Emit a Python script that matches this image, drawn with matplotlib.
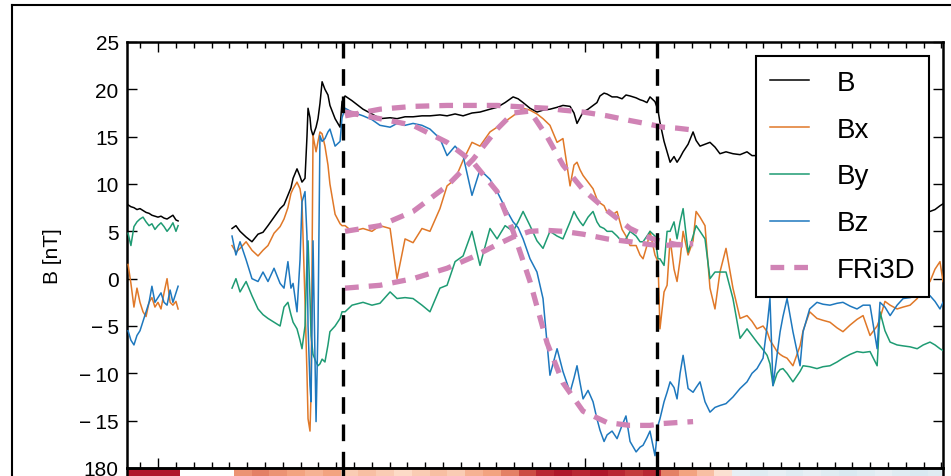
import numpy as np
import matplotlib.pyplot as plt
from matplotlib.ticker import MultipleLocator, FuncFormatter, FixedLocator
from matplotlib.lines import Line2D

plt.rcParams['font.family'] = ['Liberation Sans', 'DejaVu Sans']

# time in hours from the start of the panel
t1 = [0.06, 0.22, 0.39, 0.56, 0.73, 0.90, 1.07, 1.24, 1.40, 1.57,
      1.74, 1.91, 2.08, 2.25, 2.42, 2.58, 2.75, 2.87]
B1 = [7.8, 7.6, 7.5, 7.3, 7.4, 7.2, 7.0, 6.9, 6.7, 6.6,
      6.5, 6.6, 6.4, 6.3, 6.5, 6.7, 6.2, 6.1]
Bx1 = [1.5, -0.5, -3.0, -1.0, -2.5, -3.5, -4.0, -2.5, -2.0, -3.0,
       -2.5, -3.2, -1.5, 0.0, -2.5, -2.8, -2.4, -3.2]
By1 = [4.8, 3.5, 5.5, 6.0, 6.3, 6.5, 6.0, 5.6, 5.8, 5.2,
       5.6, 5.9, 5.5, 5.0, 5.4, 5.9, 5.0, 5.6]
Bz1 = [-5.5, -6.5, -7.0, -6.0, -5.5, -4.5, -3.5, -2.5, -0.8, -2.5,
       -2.0, -1.5, -2.5, -2.8, -1.2, -2.5, -1.5, -0.8]

t2 = [5.90, 6.12, 6.35, 6.69, 7.02, 7.36, 7.64, 7.92, 8.26, 8.60,
      8.82, 9.04, 9.21, 9.33, 9.55, 9.72, 9.83, 10.00, 10.11, 10.17,
      10.28, 10.34, 10.45, 10.62, 10.73, 10.84, 10.96, 11.12, 11.29, 11.40,
      11.69, 11.97, 12.08,
      12.25, 12.64, 13.26, 13.76, 14.21, 14.78, 15.17, 15.62, 16.07, 16.57,
      17.02, 17.58, 17.98, 18.43, 18.88, 19.38, 19.83, 20.39, 20.79, 21.24,
      21.69, 21.97, 22.25, 22.64, 23.03, 23.37, 23.76, 24.16, 24.49, 24.89,
      25.11, 25.28, 25.45, 25.62, 25.90, 26.18, 26.40, 26.57, 26.80, 26.97,
      27.25, 27.53, 27.81, 28.03, 28.26, 28.60, 28.82, 28.99, 29.21, 29.38,
      29.66, 29.83, 29.94, 30.17, 30.34, 30.51, 30.73, 30.90, 31.07, 31.24,
      31.52, 31.80, 31.97, 32.19, 32.47, 32.75, 33.03, 33.31, 33.65, 34.04,
      34.44, 34.83, 35.11, 35.39, 35.73, 35.96, 36.12, 36.29, 36.52, 36.69,
      36.85, 37.08, 37.41, 37.81, 37.98, 38.35, 38.76, 39.10, 39.49, 39.89,
      40.22, 40.62, 41.01, 41.35, 41.74, 42.14, 42.30, 42.58, 42.87, 43.26,
      43.60, 43.99, 44.39, 44.73, 45.11, 45.39, 45.67, 45.84]

B2 = [5.3, 5.6, 5.0, 4.4, 3.9, 4.7, 4.9, 5.6, 6.5, 7.4,
      7.8, 8.8, 9.6, 10.6, 11.6, 10.8, 10.2, 10.6, 15.0, 18.0,
      17.0, 15.8, 15.1, 16.0, 16.9, 18.5, 20.8, 20.0, 19.4, 18.3,
      16.9, 16.0, 18.7,
      19.3, 18.8, 17.9, 17.4, 16.9, 17.0, 16.9, 17.1, 17.1, 17.2,
      17.2, 17.3, 17.2, 17.4, 17.2, 17.5, 17.6, 17.9, 18.1, 18.6,
      19.2, 19.0, 18.6, 18.0, 17.6, 17.8, 17.9, 18.1, 18.3, 18.2,
      17.5, 16.4, 17.0, 17.6, 17.9, 18.3, 18.6, 19.3, 19.6, 19.5,
      19.2, 19.2, 19.0, 19.4, 19.3, 19.1, 18.9, 18.8, 18.6, 19.2,
      18.7, 17.8, 16.5, 14.5, 13.4, 12.3, 12.9, 12.3, 12.8, 13.4,
      14.2, 15.5, 14.6, 14.0, 14.2, 14.4, 13.9, 13.2, 13.4, 13.2,
      13.1, 13.4, 13.0, 13.0, 12.9, 12.8, 12.7, 12.6, 12.7, 12.5,
      12.4, 12.3, 12.2, 12.0, 11.9, 11.8, 11.6, 11.4, 11.0, 10.8,
      10.5, 10.2, 10.0, 9.7, 9.4, 9.1, 9.0, 8.8, 8.6, 8.3,
      8.0, 7.8, 7.5, 7.3, 7.1, 7.3, 7.7, 7.9]

Bx2 = [3.5, 2.8, 3.2, 3.9, 3.0, 2.4, 3.0, 3.5, 4.8, 5.5,
       6.3, 7.5, 9.0, 9.5, 10.2, 9.5, 8.1, -2.4, -10.0, -14.8,
       -16.1, -12.0, 15.1, 13.4, 14.5, 15.5, 15.3, 14.0, 12.0, 10.0,
       6.8, 5.8, 5.6,
       5.6, 5.0, 5.3, 5.0, 5.6, 5.3, 0.0, 4.2, 3.8, 5.3,
       5.0, 7.4, 9.8, 10.5, 12.5, 14.4, 14.0, 15.5, 16.0, 16.6,
       17.2, 17.6, 18.0, 17.8, 17.4, 16.9, 16.2, 14.4, 14.8, 9.8,
       12.0, 12.3, 11.5, 10.9, 10.2, 9.5, 8.4, 8.0, 7.7, 7.0,
       6.7, 7.1, 5.2, 4.5, 3.5, 3.5, 2.5, 2.1, 3.5, 5.0,
       2.5, 1.8, -5.3, -1.4, -0.7, 4.2, 1.0, -0.3, 2.0, 5.0,
       2.5, 4.0, 7.1, 6.5, 5.6, -1.0, -3.2, 0.7, 3.2, -1.0,
       -4.2, -3.9, -4.5, -5.3, -5.0, -5.6, -6.5, -7.0, -7.7, -8.0,
       -8.2, -8.4, -9.2, -7.1, -5.5, -3.5, -4.2, -4.4, -4.6, -5.2,
       -5.6, -4.9, -4.3, -3.9, -6.0, -5.0, -4.2, -2.4, -2.8, -3.2,
       -3.0, -2.8, -2.1, -1.0, -0.3, 1.0, 1.8, -0.3]

By2 = [-1.0, 0.0, -1.4, -0.3, -1.8, -3.2, -3.8, -4.2, -4.6, -5.0,
       -3.0, -2.5, -3.8, -4.6, -5.3, -6.5, -7.4, -5.0, 2.0, 4.0,
       -2.0, -6.0, -8.0, -8.8, -9.2, -9.0, -8.5, -8.8, -7.0, -5.6,
       -5.0, -4.2, -3.5,
       -3.5, -2.8, -2.5, -2.8, -2.6, -1.4, -2.1, -2.0, -2.1, -2.8,
       -3.5, -1.0, -0.7, 1.8, 2.4, 5.0, 1.4, 5.3, 4.2, 5.6,
       5.0, 6.0, 7.1, 5.6, 4.0, 3.2, 5.0, 4.5, 4.2, 6.0,
       7.1, 6.5, 6.0, 5.6, 6.5, 7.1, 6.0, 5.5, 5.3, 5.0,
       5.0, 4.5, 3.9, 4.2, 5.0, 4.5, 3.9, 3.9, 4.5, 5.0,
       4.5, 2.1, 2.1, 1.4, 5.0, 5.0, 6.0, 4.2, 6.0, 7.4,
       2.8, 4.5, 5.6, 5.0, 4.2, 0.0, 0.7, 0.7, 0.7, -2.1,
       -6.3, -5.3, -6.0, -6.7, -7.5, -8.1, -9.0, -11.3, -10.0, -9.6,
       -9.5, -10.0, -10.9, -9.8, -9.2, -9.3, -9.5, -9.3, -9.2, -8.8,
       -8.4, -8.0, -7.7, -7.8, -7.7, -9.2, -3.5, -5.5, -6.7, -7.0,
       -7.1, -7.2, -7.4, -7.0, -6.7, -7.0, -7.4, -7.6]

Bz2 = [4.5, 2.5, 3.9, 2.0, 0.0, -0.3, 0.7, -0.3, 1.1, -0.5,
       -1.0, 1.8, -1.0, -0.5, -3.5, 2.0, 8.1, 9.2, 4.5, -5.0,
       -11.3, -13.0, 4.0, -15.1, -5.0, 15.1, 14.5, 14.8, 15.5, 15.8,
       14.0, 14.5, 17.0,
       18.0, 17.6, 17.2, 16.8, 16.2, 16.0, 16.4, 16.2, 16.4, 16.2,
       15.8, 14.8, 13.0, 14.0, 13.0, 8.8, 11.5, 10.5, 9.2, 7.5,
       6.0, 5.4, 4.2, 2.1, 0.7, -2.1, -10.2, -7.4, -9.8, -12.0,
       -10.5, -9.2, -11.0, -12.7, -11.8, -13.0, -14.8, -16.0, -17.2, -16.5,
       -16.1, -16.9, -15.5, -14.5, -17.2, -18.3, -17.8, -17.6, -16.8, -16.1,
       -18.7, -15.5, -14.8, -13.0, -12.0, -10.9, -11.5, -12.7, -10.0, -8.1,
       -11.6, -12.0, -11.5, -10.9, -13.0, -14.1, -13.6, -13.4, -13.2, -12.5,
       -11.6, -10.9, -10.0, -9.5, -8.4, -5.0, -2.1, -11.3, -8.0, -5.6,
       -4.0, -2.1, -5.6, -9.2, -5.6, -3.2, -2.5, -2.7, -2.8, -2.6,
       -2.5, -2.9, -3.2, -2.8, -2.8, -7.4, -2.5, -3.0, -3.9, -2.8,
       -2.1, -2.0, -1.8, -1.6, -1.8, -2.4, -3.2, -2.5]

# FRi3D flux-rope fit
t_fit = [12.25, 14.21, 16.07, 17.98, 19.44, 20.79, 21.69, 22.64, 23.60,
         24.49, 25.62, 26.97, 28.26, 29.38, 30.11, 30.90, 31.80]
B_fit = [17.2, 17.9, 18.2, 18.3, 18.3, 18.3, 18.2, 18.1, 18.0,
         17.8, 17.6, 17.2, 16.7, 16.3, 16.0, 15.9, 15.7]
Bx_fit = [5.0, 5.6, 7.1, 9.8, 12.6, 15.8, 17.5, 17.7, 15.0,
          12.0, 9.4, 7.2, 5.3, 4.3, 3.9, 3.6, 3.5]
By_fit = [-1.0, -0.7, 0.0, 1.1, 2.3, 3.6, 4.4, 5.0, 5.1,
          5.0, 4.7, 4.2, 3.9, 3.6, 3.5, 3.6, 3.7]
Bz_fit = [17.6, 16.9, 16.2, 14.4, 12.3, 9.2, 5.0, -0.3, -6.8,
          -11.0, -14.0, -15.2, -15.5, -15.5, -15.3, -15.2, -15.1]

boundaries = [12.13, 29.78]

# hourly values of the panel below (only its top edge is in view)
strip = [0.8, 0.8, 0.8, np.nan, np.nan, np.nan, 0.45, 0.5, 0.45, 0.4,
         0.35, 0.4, 0.25, 0.3, 0.25, 0.2, 0.25, 0.3, 0.25, 0.35,
         0.4, 0.5, 0.65, 0.75, 0.8, 0.75, 0.8, 0.75, 0.7, 0.75,
         0.5, 0.4, 0.3, 0.15, -0.08, -0.12, -0.08, -0.12, -0.08, -0.12,
         -0.15, -0.12, -0.08, -0.12, -0.15, -0.12]

t_end = 45.84

def join(a, b):
    return np.concatenate([a, [np.nan], b])

t_all = join(t1, t2)
series = [('B', join(B1, B2), 'k'),
          ('Bx', join(Bx1, Bx2), '#E07828'),
          ('By', join(By1, By2), '#1E9B73'),
          ('Bz', join(Bz1, Bz2), '#1E78BE')]

fig = plt.figure(figsize=(9.51, 4.77), dpi=100)
W, H = 951, 477
ax = fig.add_axes([127 / W, (H - 469) / H, 816 / W, 426 / H], zorder=2)
ax.patch.set_alpha(0)
strip_ax = fig.add_axes([127 / W, (H - 469) / H - 0.15, 816 / W, 0.15], zorder=1)

for name, vals, col in series:
    ax.plot(t_all, vals, color=col, lw=1.1, label=name, zorder=3)

pink = '#D083B5'
for i, vals in enumerate([B_fit, Bx_fit, By_fit, Bz_fit]):
    ax.plot(t_fit, vals, color=pink, lw=3.8, dashes=(2.6, 1.9),
            label='FRi3D' if i == 0 else None, zorder=4)

for b in boundaries:
    ax.axvline(b, color='k', lw=2.4, dashes=(5, 3.2), zorder=5)
    strip_ax.axvline(b, color='k', lw=2.4, dashes=(5, 3.2), zorder=5)

ax.set_xlim(0, t_end)
ax.set_ylim(-20, 25)
ax.yaxis.set_major_locator(FixedLocator([-15, -10, -5, 0, 5, 10, 15, 20, 25]))

def fmt(v, pos):
    if v < 0:
        return '\u2212\u2009%d' % -v
    return '%d' % v

ax.yaxis.set_major_formatter(FuncFormatter(fmt))
ax.xaxis.set_major_locator(MultipleLocator(24, offset=1.75))
ax.xaxis.set_minor_locator(MultipleLocator(1, offset=0.75))
ax.tick_params(axis='both', which='both', direction='in', top=True, right=True,
               labelbottom=False, width=1.0)
ax.tick_params(axis='x', which='major', length=7)
ax.tick_params(axis='x', which='minor', length=4)
ax.tick_params(axis='y', which='major', length=7, labelsize=15, pad=6)
ax.set_ylabel('B [nT]', fontsize=15, labelpad=12)
for s in ax.spines.values():
    s.set_linewidth(1.8)

leg = ax.legend(loc='upper right', fontsize=20, frameon=True, fancybox=False,
                edgecolor='k', framealpha=1, handlelength=1.4,
                handletextpad=1.0, labelspacing=0.75, borderpad=0.5)
leg.get_frame().set_linewidth(1.5)
leg.set_zorder(10)

# lower panel, cut by the figure edge
cmap = plt.get_cmap('RdBu_r').copy()
cmap.set_bad('white')
strip_ax.imshow([strip], cmap=cmap, vmin=-1, vmax=1, aspect='auto',
                extent=(0, len(strip), 0, 180), interpolation='nearest')
strip_ax.set_xlim(0, t_end)
strip_ax.set_ylim(0, 180)
strip_ax.set_yticks([180])
strip_ax.set_xticks([])
strip_ax.tick_params(axis='y', direction='in', length=7, labelsize=15, pad=6)
for s in strip_ax.spines.values():
    s.set_linewidth(1.8)

# frame of the surrounding figure
fig.add_artist(Line2D([12 / W, 1], [1 - 6 / H, 1 - 6 / H], transform=fig.transFigure,
                      color='k', lw=1.5))
fig.add_artist(Line2D([12 / W, 12 / W], [0, 1 - 6 / H], transform=fig.transFigure,
                      color='k', lw=1.5))

fig.savefig('out.png', dpi=100)
